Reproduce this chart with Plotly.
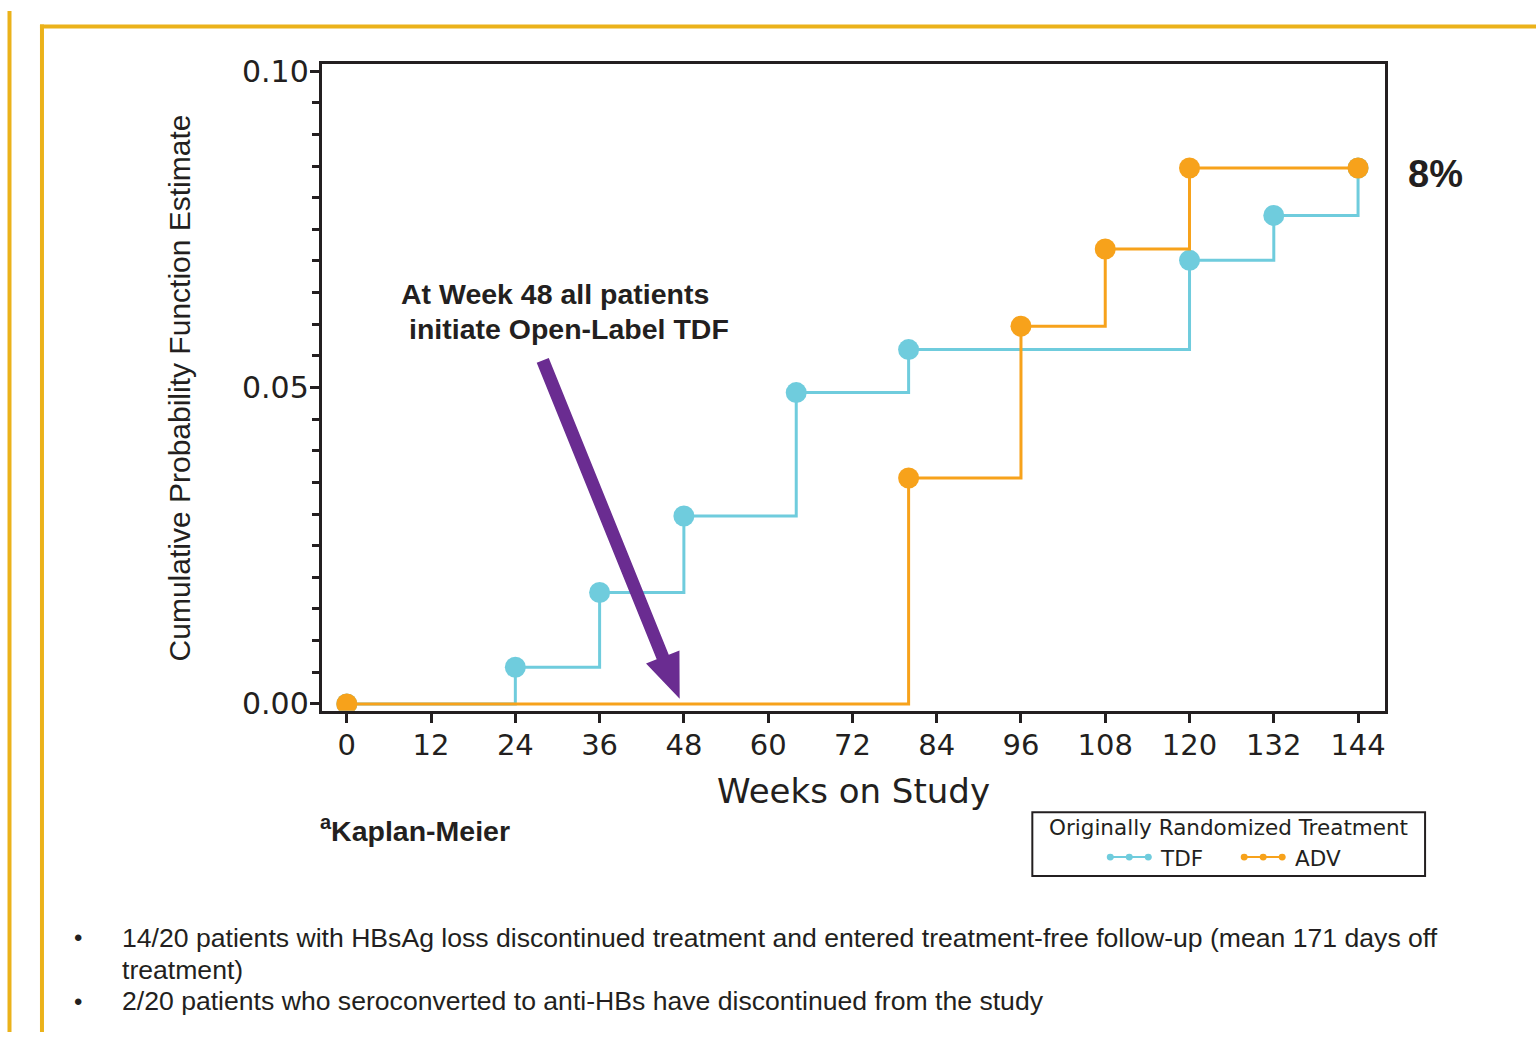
import plotly.graph_objects as go

# ---------------- data ----------------
tdf_weeks = [0, 24, 36, 48, 64, 80, 120, 132, 144]
tdf_prob = [0.0, 0.0058, 0.0176, 0.0297, 0.0492, 0.0560, 0.0701, 0.0772, 0.0847]
adv_weeks = [0, 80, 96, 108, 120, 144]
adv_prob = [0.0, 0.0357, 0.0597, 0.0719, 0.0847, 0.0847]
x_ticks = [0, 12, 24, 36, 48, 60, 72, 84, 96, 108, 120, 132, 144]
y_ticks = [0.0, 0.05, 0.10]
y_tick_labels = ["0.00", "0.05", "0.10"]

TEAL = "#6FCCDD"
ORANGE = "#F7A21B"
PURPLE = "#6A2C91"
INK = "#231F20"
GOLD = "#EBB21A"

W, H = 1537, 1043
XR = [-3.56, 147.85]
YR = [-0.0011, 0.1011]


def px_x(p):
    return p / W


def px_y(p):
    # vertical placement (compensates the page's vertical offset/scale)
    q = (p - 8.5) / 0.984
    return 1 - q / H


DX = [px_x(322), px_x(1386)]
DY = [px_y(712), px_y(62)]

fig = go.Figure()
fig.add_trace(go.Scatter(x=tdf_weeks, y=tdf_prob, mode="lines+markers", name="TDF",
                         line=dict(color=TEAL, width=3, shape="hv"),
                         marker=dict(color=TEAL, size=21), showlegend=False))
fig.add_trace(go.Scatter(x=adv_weeks, y=adv_prob, mode="lines+markers", name="ADV",
                         line=dict(color=ORANGE, width=3, shape="hv"),
                         marker=dict(color=ORANGE, size=21), showlegend=False))

# ---- arrow (polygon built in pixel space, converted to data) ----
pw = (DX[1] - DX[0]) * W
ph = (DY[1] - DY[0]) * H
sx = pw / (XR[1] - XR[0])
sy = ph / (YR[1] - YR[0])


def to_px(x, y):
    return ((x - XR[0]) * sx, (YR[1] - y) * sy)


def to_data(px, py):
    return (px / sx + XR[0], YR[1] - py / sy)


tip = to_px(47.4, 0.0008)
tail = to_px(27.9, 0.0543)
dx, dy = tip[0] - tail[0], tip[1] - tail[1]
L = (dx * dx + dy * dy) ** 0.5
ux, uy = dx / L, dy / L
nx, ny = uy, -ux
sw, hw, hl = 6.5, 18, 46
base = (tip[0] - ux * hl, tip[1] - uy * hl)
pts = [
    (tail[0] + nx * sw, tail[1] + ny * sw),
    (base[0] + nx * sw, base[1] + ny * sw),
    (base[0] + nx * hw, base[1] + ny * hw),
    tip,
    (base[0] - nx * hw, base[1] - ny * hw),
    (base[0] - nx * sw, base[1] - ny * sw),
    (tail[0] - nx * sw, tail[1] - ny * sw),
]
dpts = [to_data(*p) for p in pts]
path = "M " + " L ".join(f"{a:.4f},{b:.6f}" for a, b in dpts) + " Z"

shapes = [
    dict(type="path", path=path, xref="x", yref="y", fillcolor=PURPLE,
         line=dict(width=0), layer="above"),
    # gold frame
    dict(type="line", xref="paper", yref="paper", x0=px_x(9.5), x1=px_x(9.5), y0=0, y1=1,
         line=dict(color=GOLD, width=4)),
    dict(type="line", xref="paper", yref="paper", x0=px_x(40), x1=1, y0=px_y(24), y1=px_y(24),
         line=dict(color=GOLD, width=4)),
    dict(type="line", xref="paper", yref="paper", x0=px_x(42), x1=px_x(42), y0=0, y1=px_y(22),
         line=dict(color=GOLD, width=4)),
    # legend box
    dict(type="rect", xref="paper", yref="paper", x0=px_x(1033), x1=px_x(1426),
         y0=px_y(878), y1=px_y(814), line=dict(color=INK, width=2)),
]

# legend symbols
for (x0, x1, col) in [(1108, 1152, TEAL), (1242, 1286, ORANGE)]:
    yc = px_y(859)
    shapes.append(dict(type="line", xref="paper", yref="paper", x0=px_x(x0), x1=px_x(x1),
                       y0=yc, y1=yc, line=dict(color=col, width=2)))
    for cx in (x0 + 3, (x0 + x1) / 2, x1 - 3):
        shapes.append(dict(type="circle", xref="paper", yref="paper",
                           x0=px_x(cx - 3.5), x1=px_x(cx + 3.5),
                           y0=yc - 3.5 / H, y1=yc + 3.5 / H,
                           fillcolor=col, line=dict(width=0)))


def note(text, x, y, size, family="Liberation Sans, Arial", xanchor="center", **kw):
    d = dict(text=text, xref="paper", yref="paper", x=px_x(x), y=px_y(y),
             xanchor=xanchor, yanchor="middle", showarrow=False,
             font=dict(family=family, size=size, color=INK))
    d.update(kw)
    return d


ann = [
    note("Cumulative Probability Function Estimate", 180, 387, 30, textangle=-90),
    note("Weeks on Study", 854, 793, 34, family="DejaVu Sans"),
    note("<b>At Week 48 all patients</b>", 399, 293, 28.5, xanchor="left"),
    note("<b>initiate Open-Label TDF</b>", 407, 328, 28.5, xanchor="left"),
    note("<b>8%</b>", 1407, 172, 38, xanchor="left"),
    note("<b><sup>a</sup>Kaplan-Meier</b>", 318, 831, 28.5, xanchor="left"),
    note("Originally Randomized Treatment", 1229, 829, 21.5, family="DejaVu Sans"),
    note("TDF", 1159, 860, 21.5, family="DejaVu Sans", xanchor="left"),
    note("ADV", 1294, 860, 21.5, family="DejaVu Sans", xanchor="left"),
    note("•", 78, 940, 24),
    note("•", 78, 1004, 24),
    note("14/20 patients with HBsAg loss discontinued treatment and entered treatment-free follow-up (mean 171 days off",
         120, 940, 26.6, xanchor="left"),
    note("treatment)", 120, 972, 26.6, xanchor="left"),
    note("2/20 patients who seroconverted to anti-HBs have discontinued from the study",
         120, 1004, 26.6, xanchor="left"),
]

fig.update_layout(
    width=W, height=H, margin=dict(l=0, r=0, t=0, b=0),
    paper_bgcolor="white", plot_bgcolor="white",
    shapes=shapes, annotations=ann, showlegend=False,
    xaxis=dict(domain=DX, range=XR, tickmode="array", tickvals=x_ticks,
               ticks="outside", ticklen=9, tickwidth=3, tickcolor=INK,
               ticklabelstandoff=-3,
               showline=True, linewidth=3, linecolor=INK, mirror=True,
               showgrid=False, zeroline=False,
               tickfont=dict(family="DejaVu Sans", size=29, color=INK)),
    yaxis=dict(domain=DY, range=YR, tickmode="array", tickvals=y_ticks, ticktext=y_tick_labels,
               ticks="outside", ticklen=9, tickwidth=3, tickcolor=INK,
               ticklabelstandoff=-5,
               minor=dict(dtick=0.005, tick0=0, ticks="outside", ticklen=7, tickwidth=3, tickcolor=INK),
               showline=True, linewidth=3, linecolor=INK, mirror=True,
               showgrid=False, zeroline=False,
               tickfont=dict(family="DejaVu Sans", size=30, color=INK)),
)

fig.write_html("out.html")
